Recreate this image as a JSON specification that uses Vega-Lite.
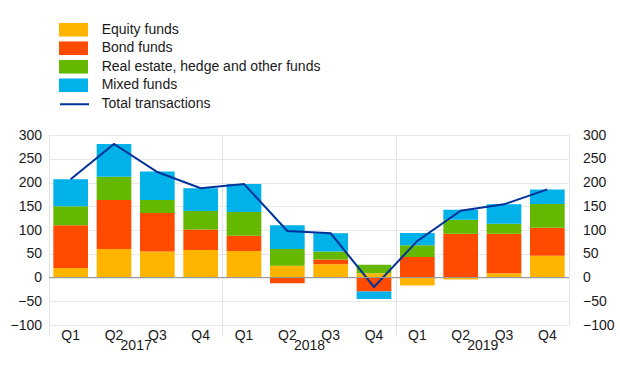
{
  "$schema": "https://vega.github.io/schema/vega-lite/v6.json",
  "width": 520,
  "height": 190,
  "autosize": {"type": "none"},
  "padding": {"left": 49, "top": 135, "right": 51, "bottom": 62},
  "background": "white",
  "config": {
    "font": "Liberation Sans",
    "view": {"stroke": "#e3e3e3"},
    "axis": {"labelFont": "Liberation Sans", "labelFontSize": 14, "labelColor": "#1a1a1a"},
    "legend": {"labelFont": "Liberation Sans", "labelFontSize": 14, "labelColor": "#1a1a1a"}
  },
  "datasets": {
    "flows": [
      {"period": "2017 Q1", "series": "Equity funds", "value": 20},
      {"period": "2017 Q1", "series": "Bond funds", "value": 90},
      {"period": "2017 Q1", "series": "Real estate, hedge and other funds", "value": 40},
      {"period": "2017 Q1", "series": "Mixed funds", "value": 57},
      {"period": "2017 Q2", "series": "Equity funds", "value": 60},
      {"period": "2017 Q2", "series": "Bond funds", "value": 103},
      {"period": "2017 Q2", "series": "Real estate, hedge and other funds", "value": 49},
      {"period": "2017 Q2", "series": "Mixed funds", "value": 69},
      {"period": "2017 Q3", "series": "Equity funds", "value": 55},
      {"period": "2017 Q3", "series": "Bond funds", "value": 81},
      {"period": "2017 Q3", "series": "Real estate, hedge and other funds", "value": 27},
      {"period": "2017 Q3", "series": "Mixed funds", "value": 60},
      {"period": "2017 Q4", "series": "Equity funds", "value": 58},
      {"period": "2017 Q4", "series": "Bond funds", "value": 43},
      {"period": "2017 Q4", "series": "Real estate, hedge and other funds", "value": 39},
      {"period": "2017 Q4", "series": "Mixed funds", "value": 48},
      {"period": "2018 Q1", "series": "Equity funds", "value": 56},
      {"period": "2018 Q1", "series": "Bond funds", "value": 32},
      {"period": "2018 Q1", "series": "Real estate, hedge and other funds", "value": 50},
      {"period": "2018 Q1", "series": "Mixed funds", "value": 59},
      {"period": "2018 Q2", "series": "Equity funds", "value": 25},
      {"period": "2018 Q2", "series": "Bond funds", "value": -12},
      {"period": "2018 Q2", "series": "Real estate, hedge and other funds", "value": 35},
      {"period": "2018 Q2", "series": "Mixed funds", "value": 50},
      {"period": "2018 Q3", "series": "Equity funds", "value": 28},
      {"period": "2018 Q3", "series": "Bond funds", "value": 10},
      {"period": "2018 Q3", "series": "Real estate, hedge and other funds", "value": 17},
      {"period": "2018 Q3", "series": "Mixed funds", "value": 38},
      {"period": "2018 Q4", "series": "Equity funds", "value": 9},
      {"period": "2018 Q4", "series": "Bond funds", "value": -29.5},
      {"period": "2018 Q4", "series": "Real estate, hedge and other funds", "value": 18},
      {"period": "2018 Q4", "series": "Mixed funds", "value": -16},
      {"period": "2019 Q1", "series": "Equity funds", "value": -17},
      {"period": "2019 Q1", "series": "Bond funds", "value": 43},
      {"period": "2019 Q1", "series": "Real estate, hedge and other funds", "value": 25},
      {"period": "2019 Q1", "series": "Mixed funds", "value": 25.5},
      {"period": "2019 Q2", "series": "Equity funds", "value": -4},
      {"period": "2019 Q2", "series": "Bond funds", "value": 92},
      {"period": "2019 Q2", "series": "Real estate, hedge and other funds", "value": 29.5},
      {"period": "2019 Q2", "series": "Mixed funds", "value": 21},
      {"period": "2019 Q3", "series": "Equity funds", "value": 9},
      {"period": "2019 Q3", "series": "Bond funds", "value": 83},
      {"period": "2019 Q3", "series": "Real estate, hedge and other funds", "value": 21},
      {"period": "2019 Q3", "series": "Mixed funds", "value": 41},
      {"period": "2019 Q4", "series": "Equity funds", "value": 46},
      {"period": "2019 Q4", "series": "Bond funds", "value": 59},
      {"period": "2019 Q4", "series": "Real estate, hedge and other funds", "value": 50},
      {"period": "2019 Q4", "series": "Mixed funds", "value": 30.5}
    ],
    "totals": [
      {"period": "2017 Q1", "total": 207},
      {"period": "2017 Q2", "total": 281},
      {"period": "2017 Q3", "total": 222},
      {"period": "2017 Q4", "total": 188},
      {"period": "2018 Q1", "total": 197},
      {"period": "2018 Q2", "total": 98},
      {"period": "2018 Q3", "total": 93},
      {"period": "2018 Q4", "total": -20},
      {"period": "2019 Q1", "total": 77},
      {"period": "2019 Q2", "total": 140.5},
      {"period": "2019 Q3", "total": 154},
      {"period": "2019 Q4", "total": 185.5}
    ]
  },
  "layer": [
    {
      "data": {"name": "flows"},
      "transform": [
        {"calculate": "indexof(['Equity funds', 'Bond funds', 'Real estate, hedge and other funds', 'Mixed funds'], datum.series)", "as": "stackOrder"}
      ],
      "mark": {"type": "bar"},
      "encoding": {
        "x": {
          "field": "period", "type": "ordinal", "sort": null,
          "scale": {"paddingInner": 0.2, "paddingOuter": 0.1},
          "axis": {"orient": "bottom", "title": null, "labelExpr": "split(datum.label, ' ')[1]", "labelAngle": 0, "ticks": false, "domain": false, "grid": false, "labelPadding": 3}
        },
        "y": {
          "field": "value", "type": "quantitative", "stack": "zero",
          "scale": {"domain": [-100, 300], "nice": false},
          "axis": {"orient": "left", "title": null, "values": [-100, -50, 0, 50, 100, 150, 200, 250, 300], "grid": true, "gridColor": "#e8e8e8", "ticks": false, "domain": false, "labelPadding": 7.5}
        },
        "fill": {
          "field": "series", "type": "nominal",
          "scale": {
            "domain": ["Equity funds", "Bond funds", "Real estate, hedge and other funds", "Mixed funds"],
            "range": ["#ffb400", "#ff4b00", "#65b800", "#00b1ea"]
          },
          "legend": {"orient": "none", "legendX": 10, "legendY": -112.3, "title": null, "symbolType": "M-1,-0.4828H1V0.4828H-1Z", "symbolSize": 841, "symbolStrokeWidth": 0, "symbolOpacity": 1, "clipHeight": 14, "rowPadding": 4.5, "labelOffset": 13.7, "labelLimit": 400, "padding": 0}
        },
        "order": {"field": "stackOrder", "type": "quantitative"}
      }
    },
    {
      "data": {"name": "totals"},
      "mark": {"type": "line", "strokeWidth": 2},
      "encoding": {
        "x": {
          "field": "period", "type": "ordinal", "sort": null,
          "axis": {"orient": "bottom", "title": null, "values": ["2017 Q1", "2018 Q1", "2019 Q1"], "labelExpr": "split(datum.label, ' ')[0]", "labelAngle": 0, "bandPosition": 0, "tickOffset": -4.33, "labelOffset": 69.33, "grid": true, "gridColor": "#e3e3e3", "ticks": true, "tickSize": 10, "tickColor": "#e3e3e3", "domain": false, "labelPadding": 3}
        },
        "y": {
          "field": "total", "type": "quantitative",
          "scale": {"domain": [-100, 300], "nice": false},
          "axis": {"orient": "right", "title": null, "values": [-100, -50, 0, 50, 100, 150, 200, 250, 300], "grid": false, "ticks": false, "domain": false, "labelPadding": 13.5}
        },
        "stroke": {
          "datum": "Total transactions", "type": "nominal",
          "scale": {"range": ["#003299"]},
          "legend": {"orient": "none", "legendX": 10, "legendY": -37.7, "title": null, "symbolType": "stroke", "symbolSize": 841, "symbolStrokeWidth": 2, "clipHeight": 14, "labelOffset": 11.5, "labelLimit": 400, "padding": 0}
        }
      }
    },
    {
      "data": {"values": [{}]},
      "mark": {"type": "rule", "color": "#999999", "strokeWidth": 1},
      "encoding": {
        "y": {"datum": 0, "type": "quantitative", "axis": null}
      }
    }
  ],
  "resolve": {"axis": {"x": "independent", "y": "independent"}}
}
